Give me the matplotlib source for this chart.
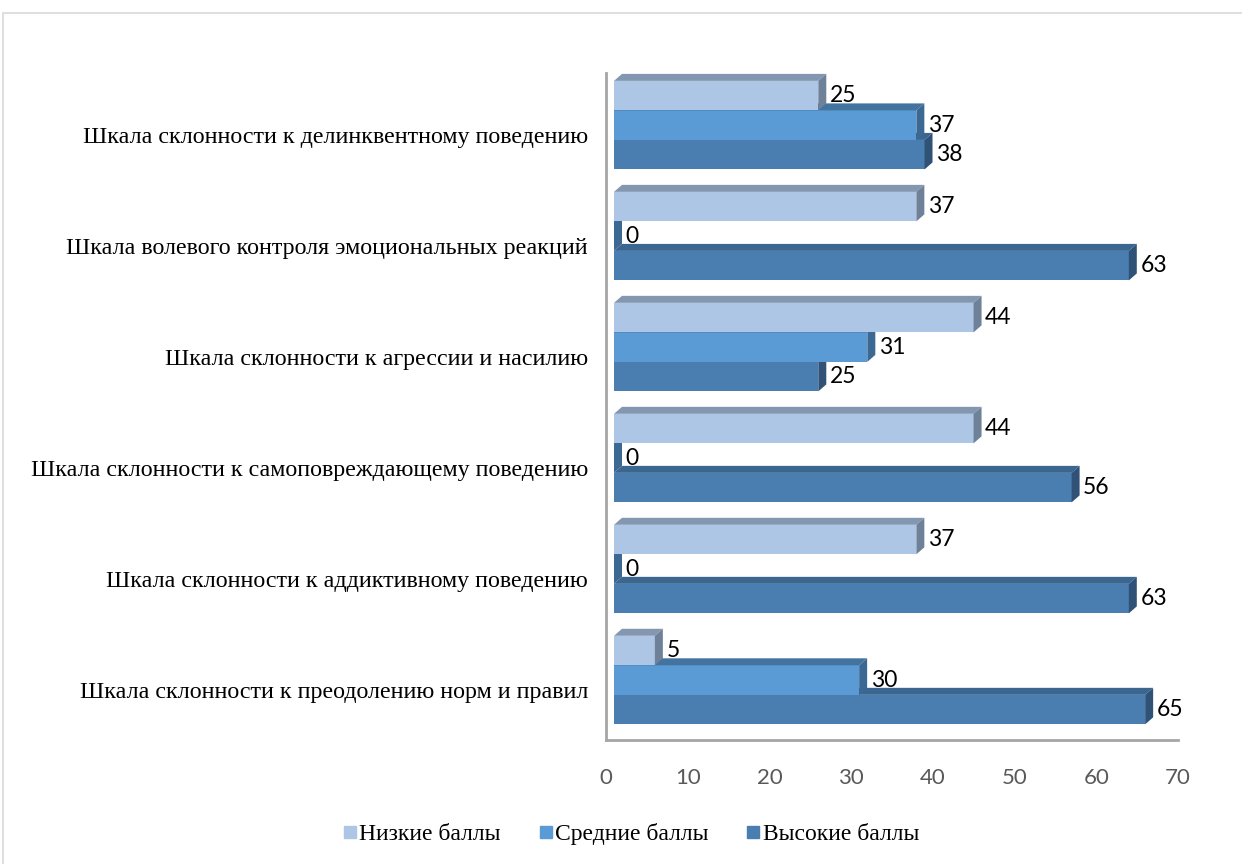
import numpy as np
import matplotlib.pyplot as plt
from matplotlib.patches import Polygon, Rectangle
from matplotlib.lines import Line2D

# данные (снизу вверх)
categories = ['Шкала склонности к преодолению норм и правил',
              'Шкала склонности к аддиктивному поведению',
              'Шкала склонности к самоповреждающему поведению',
              'Шкала склонности к агрессии и насилию',
              'Шкала волевого контроля эмоциональных реакций',
              'Шкала склонности к делинквентному поведению']
series_names = ['Низкие баллы', 'Средние баллы', 'Высокие баллы']
low = [5, 37, 44, 44, 37, 25]
mid = [30, 0, 0, 31, 0, 37]
high = [65, 63, 56, 25, 63, 38]

# цвета: лицевая грань, верхняя грань, боковая грань
colors = [('#ADC6E6', '#8497B0', '#6F8198'),
          ('#5B9BD5', '#43739F', '#3C6994'),
          ('#4A7EB1', '#3A6690', '#2F5276')]

W, H = 1242, 864
fig = plt.figure(figsize=(W / 100, H / 100), dpi=100)
ax_l, ax_r, ax_t, ax_b = 606, 1178, 73, 740
ax = fig.add_axes([ax_l / W, 1 - ax_b / H, (ax_r - ax_l) / W, (ax_b - ax_t) / H])
ax.set_xlim(0, 70)
ax.set_ylim(-0.54, 5.47)

# рамка вокруг диаграммы
fig.add_artist(Rectangle((3 / W, -0.1), 1.2, 1 - 13 / H + 0.1, transform=fig.transFigure,
                         fill=False, ec='#D9D9D9', lw=1.2))

pxx = (ax_r - ax_l) / 70.0
pxy = (ax_b - ax_t) / 6.01
dx = 8 / pxx
dy = 7 / pxy
x0 = 8 / pxx
h = 0.266

y = np.arange(len(categories))
vals = [low, mid, high]
offs = [h, 0, -h]

# рисуем снизу вверх: высокие, средние, низкие
for k in range(len(categories)):
    for s in [2, 1, 0]:
        v = vals[s][k]
        yc = y[k] + offs[s]
        front, top, side = colors[s]
        ax.barh(yc, v, height=h, left=x0, color=front, edgecolor='none', zorder=3)
        yb, yt = yc - h / 2, yc + h / 2
        ax.add_patch(Polygon([(x0, yt), (x0 + dx, yt + dy), (x0 + v + dx, yt + dy), (x0 + v, yt)],
                             closed=True, fc=top, ec='none', zorder=3))
        ax.add_patch(Polygon([(x0 + v, yb), (x0 + v + dx, yb + dy), (x0 + v + dx, yt + dy), (x0 + v, yt)],
                             closed=True, fc=side, ec='none', zorder=3))
        ax.text(x0 + v + dx + 0.45, yc, str(v), ha='left', va='center',
                fontsize=16.5, family='Lato', color='black', zorder=4)

ax.set_yticks(y - 0.085)
ax.set_yticklabels(categories, family='Liberation Serif', fontsize=17.3)
ax.tick_params(axis='y', length=0, pad=13)
ax.set_xticks(np.arange(0, 71, 10))
ax.tick_params(axis='x', length=0, pad=20, labelsize=16, labelcolor='#595959')
for lb in ax.get_xticklabels():
    lb.set_family('Lato')

for sp in ['top', 'right']:
    ax.spines[sp].set_visible(False)
for sp in ['left', 'bottom']:
    ax.spines[sp].set_color('#A6A6A6')
    ax.spines[sp].set_linewidth(2)

handles = [Line2D([], [], ls='none', marker='s', markersize=8, color=c[0]) for c in colors]
fig.legend(handles, series_names, loc='center', bbox_to_anchor=(631 / W, 1 - 834 / H), ncol=3,
           frameon=False, prop={'family': 'Liberation Serif', 'size': 17},
           handletextpad=0.1, columnspacing=1.6, handlelength=0.6)

fig.savefig('out.png', dpi=100)
